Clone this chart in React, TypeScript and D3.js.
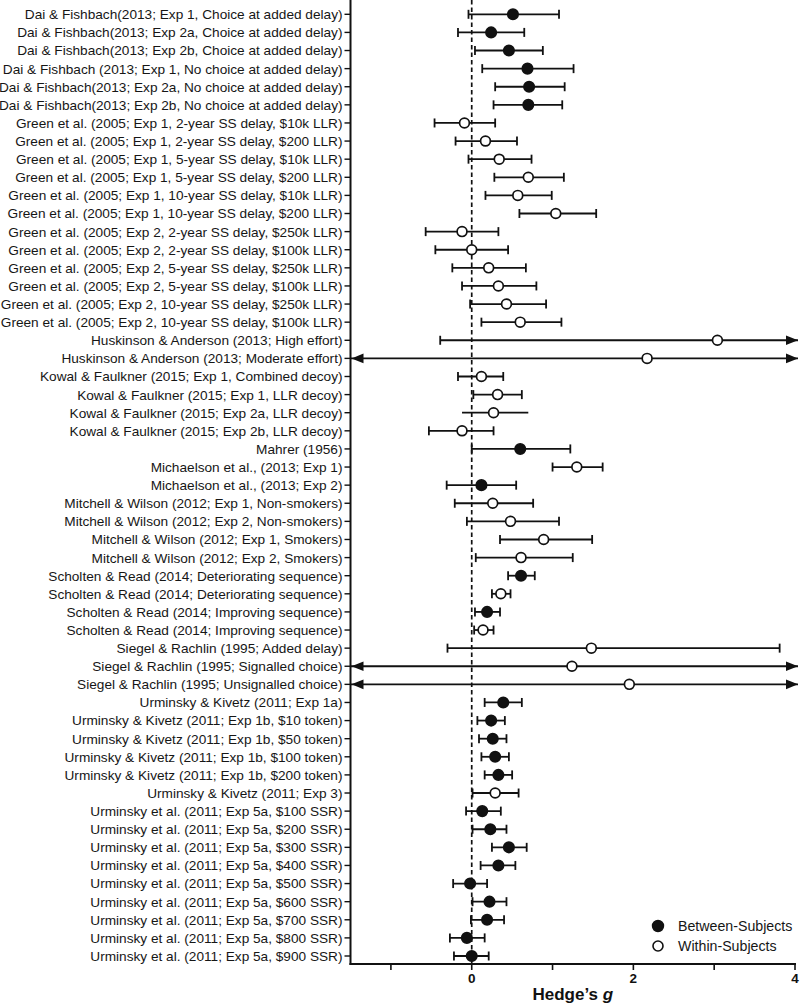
import React from "react";
import * as d3 from "d3";

const labels: string[] = [
  "Dai & Fishbach(2013; Exp 1, Choice at added delay)",
  "Dai & Fishbach(2013; Exp 2a, Choice at added delay)",
  "Dai & Fishbach(2013; Exp 2b, Choice at added delay)",
  "Dai & Fishbach (2013; Exp 1, No choice at added delay)",
  "Dai & Fishbach(2013; Exp 2a, No choice at added delay)",
  "Dai & Fishbach(2013; Exp 2b, No choice at added delay)",
  "Green et al. (2005; Exp 1, 2-year SS delay, $10k LLR)",
  "Green et al. (2005; Exp 1, 2-year SS delay, $200 LLR)",
  "Green et al. (2005; Exp 1, 5-year SS delay, $10k LLR)",
  "Green et al. (2005; Exp 1, 5-year SS delay, $200 LLR)",
  "Green et al. (2005; Exp 1, 10-year SS delay, $10k LLR)",
  "Green et al. (2005; Exp 1, 10-year SS delay, $200 LLR)",
  "Green et al. (2005; Exp 2, 2-year SS delay, $250k LLR)",
  "Green et al. (2005; Exp 2, 2-year SS delay, $100k LLR)",
  "Green et al. (2005; Exp 2, 5-year SS delay, $250k LLR)",
  "Green et al. (2005; Exp 2, 5-year SS delay, $100k LLR)",
  "Green et al. (2005; Exp 2, 10-year SS delay, $250k LLR)",
  "Green et al. (2005; Exp 2, 10-year SS delay, $100k LLR)",
  "Huskinson & Anderson (2013; High effort)",
  "Huskinson & Anderson (2013; Moderate effort)",
  "Kowal & Faulkner (2015; Exp 1, Combined decoy)",
  "Kowal & Faulkner (2015; Exp 1, LLR decoy)",
  "Kowal & Faulkner (2015; Exp 2a, LLR decoy)",
  "Kowal & Faulkner (2015; Exp 2b, LLR decoy)",
  "Mahrer (1956)",
  "Michaelson et al., (2013; Exp 1)",
  "Michaelson et al., (2013; Exp 2)",
  "Mitchell & Wilson (2012; Exp 1, Non-smokers)",
  "Mitchell & Wilson (2012; Exp 2, Non-smokers)",
  "Mitchell & Wilson (2012; Exp 1, Smokers)",
  "Mitchell & Wilson (2012; Exp 2, Smokers)",
  "Scholten & Read (2014; Deteriorating sequence)",
  "Scholten & Read (2014; Deteriorating sequence)",
  "Scholten & Read (2014; Improving sequence)",
  "Scholten & Read (2014; Improving sequence)",
  "Siegel & Rachlin (1995; Added delay)",
  "Siegel & Rachlin (1995; Signalled choice)",
  "Siegel & Rachlin (1995; Unsignalled choice)",
  "Urminsky & Kivetz (2011; Exp 1a)",
  "Urminsky & Kivetz (2011; Exp 1b, $10 token)",
  "Urminsky & Kivetz (2011; Exp 1b, $50 token)",
  "Urminsky & Kivetz (2011; Exp 1b, $100 token)",
  "Urminsky & Kivetz (2011; Exp 1b, $200 token)",
  "Urminsky & Kivetz (2011; Exp 3)",
  "Urminsky et al. (2011; Exp 5a, $100 SSR)",
  "Urminsky et al. (2011; Exp 5a, $200 SSR)",
  "Urminsky et al. (2011; Exp 5a, $300 SSR)",
  "Urminsky et al. (2011; Exp 5a, $400 SSR)",
  "Urminsky et al. (2011; Exp 5a, $500 SSR)",
  "Urminsky et al. (2011; Exp 5a, $600 SSR)",
  "Urminsky et al. (2011; Exp 5a, $700 SSR)",
  "Urminsky et al. (2011; Exp 5a, $800 SSR)",
  "Urminsky et al. (2011; Exp 5a, $900 SSR)",
];

// Hedge's g point estimates
const effect: number[] = [
  0.51, 0.24, 0.46, 0.69, 0.71, 0.70,
  -0.09, 0.17, 0.34, 0.70, 0.57, 1.04, -0.12, 0.0, 0.21, 0.33, 0.43, 0.60,
  3.04, 2.17,
  0.12, 0.32, 0.27, -0.12,
  0.60, 1.30, 0.12,
  0.26, 0.48, 0.89, 0.61,
  0.61, 0.36, 0.19, 0.14,
  1.48, 1.24, 1.95,
  0.39, 0.24, 0.26, 0.29, 0.33, 0.29,
  0.13, 0.23, 0.46, 0.33, -0.02, 0.22, 0.19, -0.06, 0.0,
];

// lower CI (null = beyond the axis)
const lower: (number | null)[] = [
  -0.04, -0.17, 0.04, 0.13, 0.29, 0.27,
  -0.46, -0.20, -0.04, 0.28, 0.17, 0.59, -0.57, -0.45, -0.24, -0.12, -0.02, 0.12,
  -0.39, null,
  -0.17, 0.02, -0.12, -0.53,
  0.0, 1.0, -0.31,
  -0.21, -0.06, 0.35, 0.05,
  0.45, 0.25, 0.04, 0.03,
  -0.30, null, null,
  0.16, 0.07, 0.09, 0.12, 0.16, 0.01,
  -0.07, 0.01, 0.25, 0.11, -0.23, 0.01, -0.01, -0.27, -0.22,
];

// upper CI (null = beyond the axis)
const upper: (number | null)[] = [
  1.08, 0.65, 0.88, 1.26, 1.15, 1.12,
  0.29, 0.56, 0.74, 1.14, 0.99, 1.54, 0.33, 0.45, 0.67, 0.80, 0.92, 1.11,
  null, null,
  0.39, 0.62, 0.70, 0.27,
  1.22, 1.62, 0.55,
  0.76, 1.08, 1.49, 1.25,
  0.78, 0.48, 0.35, 0.27,
  3.81, null, null,
  0.62, 0.41, 0.43, 0.46, 0.50, 0.58,
  0.36, 0.43, 0.68, 0.54, 0.19, 0.43, 0.40, 0.16, 0.21,
];

// design: B = between-subjects, W = within-subjects
const design: string[] = [
  "B", "B", "B", "B", "B", "B",
  "W", "W", "W", "W", "W", "W", "W", "W", "W", "W", "W", "W",
  "W", "W",
  "W", "W", "W", "W",
  "B", "W", "B",
  "W", "W", "W", "W",
  "B", "W", "B", "W",
  "W", "W", "W",
  "B", "B", "B", "B", "B", "W",
  "B", "B", "B", "B", "B", "B", "B", "B", "B",
];

const uncappedRows: number[] = [22];

const xTicks: number[] = [-1, 0, 1, 2, 3, 4];
const xTickLabels: number[] = [0, 2, 4];
const legendItems: { key: string; label: string }[] = [
  { key: "B", label: "Between-Subjects" },
  { key: "W", label: "Within-Subjects" },
];

const W = 800;
const H = 1005;
const FONT = "'Liberation Sans', Arial, Helvetica, sans-serif";
const INK = "#111";

export default function App() {
  const x = d3.scaleLinear().domain([-1.5, 4]).range([350.5, 795]);
  const idx = labels.map((_, i) => i);
  const y = d3.scalePoint<number>().domain(idx).range([14.3, 956]);
  const axisY = 964;
  const left = x(-1.5);
  const right = x(4);
  const capH = 4.5;
  const arrow = (tipX: number, yy: number, dir: number) => {
    const len = 12;
    const hw = 4.8;
    return `M${tipX},${yy}L${tipX - dir * len},${yy - hw}L${tipX - dir * len},${yy + hw}Z`;
  };

  return (
    <svg
      width={W}
      height={H}
      style={{ position: "absolute", left: 0, top: 0, background: "#fff" }}
      fontFamily={FONT}
    >
      <rect x={0} y={0} width={W} height={H} fill="#fff" />
      {/* zero reference line */}
      <line
        x1={x(0)}
        x2={x(0)}
        y1={0}
        y2={axisY}
        stroke={INK}
        strokeWidth={1.7}
        strokeDasharray="4.5,3"
      />
      {/* rows */}
      {idx.map((i) => {
        const yy = y(i) as number;
        const lo = lower[i];
        const hi = upper[i];
        const x1 = lo === null ? left : x(lo);
        const x2 = hi === null ? right + 3 : x(hi);
        const capped = !uncappedRows.includes(i);
        const filled = design[i] === "B";
        return (
          <g key={i}>
            <line x1={left - 6} x2={left} y1={yy} y2={yy} stroke={INK} strokeWidth={1.4} />
            <text
              x={left - 8}
              y={yy}
              dy="0.36em"
              textAnchor="end"
              fontSize={13.65}
              fill="#161616"
            >
              {labels[i]}
            </text>
            <line x1={x1} x2={x2} y1={yy} y2={yy} stroke={INK} strokeWidth={1.8} />
            {lo !== null && capped && (
              <line x1={x1} x2={x1} y1={yy - capH} y2={yy + capH} stroke={INK} strokeWidth={1.8} />
            )}
            {hi !== null && capped && (
              <line x1={x2} x2={x2} y1={yy - capH} y2={yy + capH} stroke={INK} strokeWidth={1.8} />
            )}
            {lo === null && <path d={arrow(left + 1, yy, -1)} fill={INK} />}
            {hi === null && <path d={arrow(right + 3, yy, 1)} fill={INK} />}
            <circle
              cx={x(effect[i])}
              cy={yy}
              r={filled ? 5.2 : 4.9}
              fill={filled ? INK : "#fff"}
              stroke={INK}
              strokeWidth={1.7}
            />
          </g>
        );
      })}
      {/* axes */}
      <line x1={left} x2={left} y1={0} y2={axisY + 1} stroke={INK} strokeWidth={2} />
      <line x1={left - 1} x2={right + 1} y1={axisY} y2={axisY} stroke={INK} strokeWidth={2} />
      {xTicks.map((t) => (
        <line key={t} x1={x(t)} x2={x(t)} y1={axisY} y2={axisY + 6} stroke={INK} strokeWidth={1.6} />
      ))}
      {xTickLabels.map((t) => (
        <text
          key={t}
          x={x(t)}
          y={983}
          textAnchor="middle"
          fontSize={13.5}
          fontWeight="bold"
          fill={INK}
        >
          {t}
        </text>
      ))}
      <text x={(left + right) / 2} y={1000} textAnchor="middle" fontSize={17} fontWeight="bold" fill={INK}>
        Hedge’s <tspan fontStyle="italic">g</tspan>
      </text>
      {/* legend */}
      {legendItems.map((it, k) => {
        const ly = 926 + k * 20;
        return (
          <g key={it.key}>
            <circle
              cx={658}
              cy={ly}
              r={it.key === "B" ? 5.4 : 5}
              fill={it.key === "B" ? INK : "#fff"}
              stroke={INK}
              strokeWidth={1.6}
            />
            <text x={678} y={ly} dy="0.36em" fontSize={14.2} fill="#161616">
              {it.label}
            </text>
          </g>
        );
      })}
    </svg>
  );
}
